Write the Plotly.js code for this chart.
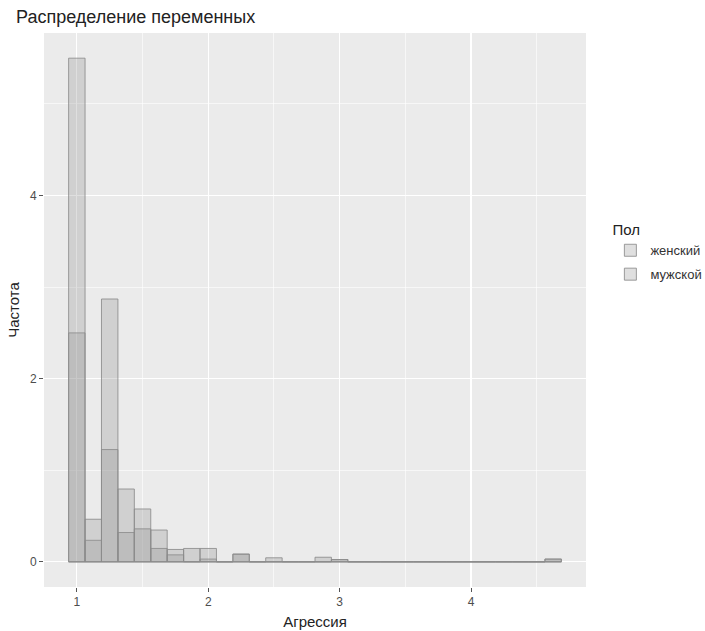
<!DOCTYPE html>
<html>
<head>
<meta charset="utf-8">
<script src="https://cdn.plot.ly/plotly-3.0.1.min.js"></script>
<style>html,body{margin:0;padding:0;background:#fff;}#chart{width:705px;height:631px;}</style>
</head>
<body>
<div id="chart"></div>
<script>
// Bin centres of the histogram (bin width 0.125)
const binCenters = [1.0, 1.125, 1.25, 1.375, 1.5, 1.625, 1.75, 1.875, 2.0, 2.125,
                    2.25, 2.375, 2.5, 2.625, 2.75, 2.875, 3.0, 3.125, 3.25, 3.375,
                    3.5, 3.625, 3.75, 3.875, 4.0, 4.125, 4.25, 4.375, 4.5, 4.625];
const binWidth = 0.125;
// Heights (Частота) per group
const female = [5.50, 0.465, 2.87, 0.795, 0.577, 0.347, 0.135, 0.146, 0.146, 0,
                0.084, 0, 0.044, 0, 0, 0.05, 0.025, 0, 0, 0,
                0, 0, 0, 0, 0, 0, 0, 0, 0, 0.03];
const male   = [2.50, 0.235, 1.226, 0.32, 0.36, 0.146, 0.076, 0, 0.03, 0,
                0.084, 0, 0, 0, 0, 0, 0.025, 0, 0, 0,
                0, 0, 0, 0, 0, 0, 0, 0, 0, 0.03];
const groupNames = ['женский', 'мужской'];
const xTicks = [1, 2, 3, 4];
const yTicks = [0, 2, 4];

const lineColor = 'rgba(140,140,140,0.85)';
const barStyle = {
  type: 'bar',
  width: binWidth,
  marker: {color: 'rgba(140,140,140,0.28)', line: {color: lineColor, width: 1}},
  hoverinfo: 'skip'
};
const traces = [
  Object.assign({}, barStyle, {x: binCenters, y: female, name: groupNames[0], legendgroup: 'g1'}),
  Object.assign({}, barStyle, {x: binCenters, y: male, name: groupNames[1], legendgroup: 'g2'})
];

const firstEdge = binCenters[0] - binWidth / 2;
const lastEdge = binCenters[binCenters.length - 1] + binWidth / 2;
const allMax = Math.max(...female, ...male);
const xSpan = lastEdge - firstEdge;

const font = 'Liberation Sans, Arial, sans-serif';
const layout = {
  width: 705, height: 631,
  margin: {l: 44, r: 119, t: 33, b: 44, autoexpand: false},
  paper_bgcolor: '#ffffff',
  plot_bgcolor: '#EBEBEB',
  barmode: 'overlay',
  bargap: 0,
  font: {family: font, color: '#4D4D4D'},
  title: {text: 'Распределение переменных', x: 16 / 705, xanchor: 'left', y: 1 - 17 / 631, yanchor: 'middle',
          font: {family: font, size: 18, color: '#222222'}},
  xaxis: {
    range: [firstEdge - 0.05 * xSpan, lastEdge + 0.05 * xSpan],
    tickvals: xTicks, ticktext: xTicks.map(String),
    ticks: 'outside', ticklen: 4, tickcolor: '#555555', tickwidth: 1,
    tickfont: {size: 12, color: '#4D4D4D'},
    showgrid: true, gridcolor: '#ffffff', gridwidth: 1.2,
    minor: {dtick: 0.5, tick0: 0.5, showgrid: true, gridcolor: '#ffffff', gridwidth: 0.6, ticks: ''},
    zeroline: false, showline: false,
    title: {text: 'Агрессия', font: {size: 15, color: '#222222'}, standoff: 8}
  },
  yaxis: {
    range: [-0.05 * allMax, allMax * 1.05],
    tickvals: yTicks, ticktext: yTicks.map(String),
    ticks: 'outside', ticklen: 4, tickcolor: '#555555', tickwidth: 1,
    tickfont: {size: 12, color: '#4D4D4D'},
    showgrid: true, gridcolor: '#ffffff', gridwidth: 1.2,
    minor: {dtick: 1, tick0: 1, showgrid: true, gridcolor: '#ffffff', gridwidth: 0.6, ticks: ''},
    zeroline: false, showline: false,
    title: {text: 'Частота', font: {size: 15, color: '#222222'}, standoff: 6}
  },
  legend: {
    x: 1.045, xanchor: 'left', y: 0.67, yanchor: 'top',
    title: {text: 'Пол', font: {size: 15, color: '#222222'}},
    font: {size: 13, color: '#333333'},
    bgcolor: 'rgba(0,0,0,0)', itemwidth: 30, tracegroupgap: 4
  },
  shapes: [{
    type: 'line', xref: 'x', yref: 'y', layer: 'above',
    x0: firstEdge, x1: lastEdge, y0: 0, y1: 0,
    line: {color: lineColor, width: 1}
  }]
};

Plotly.newPlot('chart', traces, layout, {displayModeBar: false, staticPlot: true});
</script>
</body>
</html>
